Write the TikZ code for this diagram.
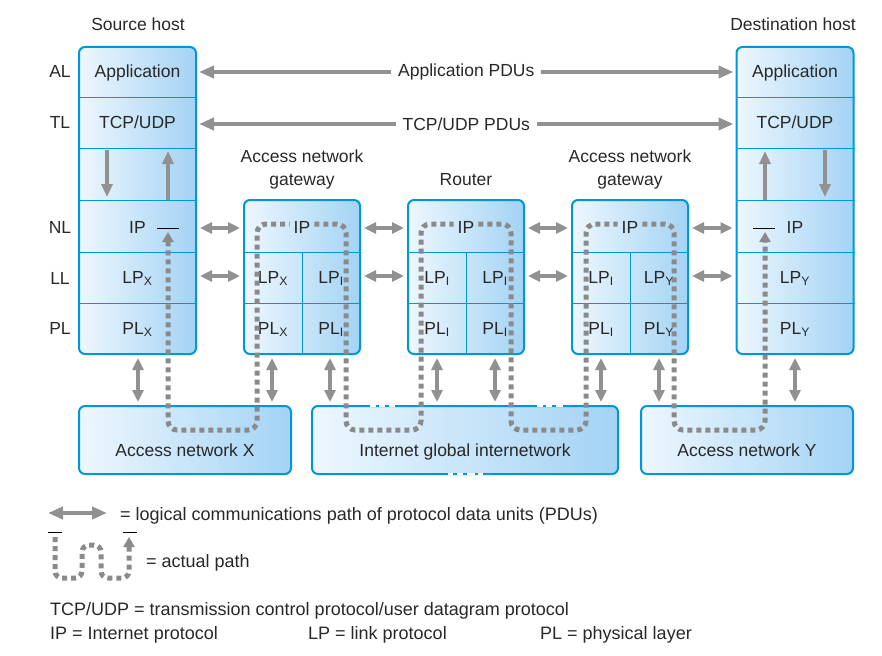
\documentclass[tikz,border=0pt]{standalone}
\usepackage{fontspec}
\setmainfont{Liberation Sans}
\usetikzlibrary{arrows.meta,positioning}
\definecolor{boxblue}{RGB}{0,150,222}
\definecolor{boxlight}{RGB}{238,247,254}
\definecolor{boxdark}{RGB}{163,211,244}
\definecolor{arrgray}{RGB}{145,145,145}
\definecolor{txtgray}{RGB}{40,40,40}

\begin{document}
\begin{tikzpicture}[x=1pt,y=-1pt,
  every node/.style={font=\fontsize{17.5}{21}\selectfont, text=txtgray, inner sep=0pt},
  box/.style={draw=boxblue, line width=2pt, rounded corners=6pt, left color=boxlight, right color=boxdark},
  divline/.style={draw=boxblue, line width=1pt},
  txt/.style={anchor=base},
  keytxt/.style={anchor=base west, font=\fontsize{18}{21}\selectfont},
  pdu/.style={draw=arrgray, line width=4.5pt, {Triangle[length=15pt,width=12pt]}-{Triangle[length=15pt,width=12pt]}, shorten <=2pt, shorten >=2pt},
  hop/.style={draw=arrgray, line width=3.5pt, {Triangle[length=12pt,width=11pt]}-{Triangle[length=12pt,width=11pt]}, shorten <=3pt, shorten >=3pt},
  updown/.style={draw=arrgray, line width=4pt, -{Triangle[length=13pt,width=11pt]}},
  actual/.style={draw=arrgray!95!black, line width=5pt, dash pattern=on 5pt off 4pt, rounded corners=9pt},
  tipin/.style={{Triangle[length=10pt,width=11pt]}-},
  tipout/.style={-{Triangle[length=10pt,width=11pt]}},
  bar/.style={draw=black, line width=1pt},
  lbl/.style={fill=white, inner xsep=7pt, inner ysep=3pt}]
\useasboundingbox (0,0) rectangle (882,655);

% hosts and relays
\node[box, minimum width=117pt, minimum height=307pt] (src) at (137.5,200.5) {};
\node[box, minimum width=117pt, minimum height=307pt] (dst) at (795,200.5) {};
\node[box, minimum width=116pt, minimum height=154pt] (gw1) at (302,277) {};
\node[box, minimum width=116pt, minimum height=154pt] (rtr) at (466,277) {};
\node[box, minimum width=116pt, minimum height=154pt] (gw2) at (630,277) {};
\node[box, minimum width=212pt, minimum height=68pt] (anx) at (185,440) {};
\node[box, minimum width=306pt, minimum height=68pt] (net) at (465,440) {};
\node[box, minimum width=212pt, minimum height=68pt] (any) at (747,440) {};

% broken border of the internetwork box
\draw[white, line width=2.5pt] (370,406) -- (395,406) (537,406) -- (563,406) (448,474) -- (483,474);
\draw[boxblue, line width=2pt] (376,406) -- (379,406) (385,406) -- (389,406)
  (543,406) -- (546,406) (552,406) -- (556,406)
  (453,474) -- (457,474) (463,474) -- (467,474) (475,474) -- (478,474);

% layer dividers
\foreach \h in {src,dst}
  \foreach \y in {98,149,200,252,303}
    \draw[divline] (\h.west |- 0,\y) -- (\h.east |- 0,\y);
\foreach \g in {gw1,rtr,gw2} {
  \foreach \y in {252,303}
    \draw[divline] (\g.west |- 0,\y) -- (\g.east |- 0,\y);
  \draw[divline] (\g.center |- 0,252) -- (\g.south);
}

% headings
\node[txt] (srcName) at (138,31) {Source host};
\node[txt] (dstName) at (793,31) {Destination host};
\node[txt] (gw1Top) at (302,162) {Access network};
\node[txt] (gw1Name) at (302,185) {gateway};
\node[txt] (rtrName) at (466,185) {Router};
\node[txt] (gw2Top) at (630,162) {Access network};
\node[txt] (gw2Name) at (630,185) {gateway};

% layer names
\node[txt] (AL) at (60,78) {AL};
\node[txt] (TL) at (60,129) {TL};
\node[txt] (NL) at (60,233) {NL};
\node[txt] (LL) at (60,284) {LL};
\node[txt] (PL) at (60,334) {PL};

% source host
\node[txt] (srcApp) at (137.5,78) {Application};
\node[txt] (srcTcp) at (137.5,129) {TCP/UDP};
\node[txt] (srcIP) at (137.5,233) {IP};
\node[txt] (srcLP) at (137.5,283) {LP\textsubscript{X}};
\node[txt] (srcPL) at (137.5,334) {PL\textsubscript{X}};
% destination host
\node[txt] (dstApp) at (795,78) {Application};
\node[txt] (dstTcp) at (795,129) {TCP/UDP};
\node[txt] (dstIP) at (795,233) {IP};
\node[txt] (dstLP) at (795,283) {LP\textsubscript{Y}};
\node[txt] (dstPL) at (795,334) {PL\textsubscript{Y}};
% gateways and router
\node[txt] (gw1IP) at (302,233) {IP};
\node[txt] (gw1LPa) at (273,283) {LP\textsubscript{X}};
\node[txt] (gw1LPb) at (331,283) {LP\textsubscript{I}};
\node[txt] (gw1PLa) at (273,334) {PL\textsubscript{X}};
\node[txt] (gw1PLb) at (331,334) {PL\textsubscript{I}};
\node[txt] (rtrIP) at (466,233) {IP};
\node[txt] (rtrLPa) at (437,283) {LP\textsubscript{I}};
\node[txt] (rtrLPb) at (495,283) {LP\textsubscript{I}};
\node[txt] (rtrPLa) at (437,334) {PL\textsubscript{I}};
\node[txt] (rtrPLb) at (495,334) {PL\textsubscript{I}};
\node[txt] (gw2IP) at (630,233) {IP};
\node[txt] (gw2LPa) at (601,283) {LP\textsubscript{I}};
\node[txt] (gw2LPb) at (659,283) {LP\textsubscript{Y}};
\node[txt] (gw2PLa) at (601,334) {PL\textsubscript{I}};
\node[txt] (gw2PLb) at (659,334) {PL\textsubscript{Y}};
% networks
\node[txt] (anxName) at (185,456) {Access network X};
\node[txt] (netName) at (465,456) {Internet global internetwork};
\node[txt] (anyName) at (747,456) {Access network Y};

% peer PDUs
\draw[pdu] (src.east |- 0,72) -- node[lbl] (appPdu) {Application PDUs} (dst.west |- 0,72);
\draw[pdu] (src.east |- 0,124) -- node[lbl] (tcpPdu) {TCP/UDP PDUs} (dst.west |- 0,124);
\foreach \a/\b in {src/gw1,gw1/rtr,rtr/gw2,gw2/dst}
  \foreach \y in {228,276}
    \draw[hop] (\a.east |- 0,\y) -- (\b.west |- 0,\y);

% inside the hosts
\draw[updown] (107,150) -- (107,197);
\draw[updown] (168,200) -- (168,151);
\draw[updown] (765,200) -- (765,151);
\draw[updown] (825,150) -- (825,197);

% to the networks
\foreach \x/\a/\b in {138/src/anx,272/gw1/anx,330/gw1/net,437/rtr/net,495/rtr/net,601/gw2/net,659/gw2/any,795/dst/any}
  \draw[hop] (\a.south -| \x,0) -- (\b.north -| \x,0);

% actual path
\coordinate (srcTip) at (168,232);
\coordinate (dstTip) at (765,232);
\draw[actual, tipin] (srcTip) -- (168,430) -- (257,430) -- (257,224) -- ([xshift=-4pt]gw1IP.west |- 0,224);
\draw[actual] ([xshift=4pt]gw1IP.east |- 0,224) -- (346,224) -- (346,430) -- (421,430) -- (421,224) -- ([xshift=-4pt]rtrIP.west |- 0,224);
\draw[actual] ([xshift=4pt]rtrIP.east |- 0,224) -- (511,224) -- (511,430) -- (586,430) -- (586,224) -- ([xshift=-4pt]gw2IP.west |- 0,224);
\draw[actual, tipout] ([xshift=4pt]gw2IP.east |- 0,224) -- (674,224) -- (674,430) -- (765,430) -- (dstTip);
\draw[bar] ([xshift=-11pt]srcTip |- 0,228) -- ([xshift=11pt]srcTip |- 0,228);
\draw[bar] ([xshift=-12pt]dstTip |- 0,228) -- ([xshift=10pt]dstTip |- 0,228);

% key
\coordinate (keyA) at (48,513);
\coordinate (keyB) at (107,513);
\draw[pdu, line width=4pt, shorten <=0pt, shorten >=0pt] (keyA) -- (keyB);
\node[keytxt] (keyPdu) at (120,520) {= logical communications path of protocol data units (PDUs)};
\coordinate (keyC) at (55,537);
\coordinate (keyD) at (129,537);
\draw[actual, tipin, tipout, rounded corners=7pt] (keyC) -- (55,578) -- (82,578) -- (82,545) -- (101,545) -- (101,578) -- (129,578) -- (keyD);
\draw[bar] (48,532) -- (62,532) (123,532) -- (137,532);
\node[keytxt] (keyPath) at (146,567) {= actual path};

% abbreviations
\node[keytxt] (abbTcp) at (50,615) {TCP/UDP = transmission control protocol/user datagram protocol};
\node[keytxt] (abbIP) at (50,639) {IP = Internet protocol};
\node[keytxt] (abbLP) at (308,639) {LP = link protocol};
\node[keytxt] (abbPL) at (540,639) {PL = physical layer};
\end{tikzpicture}
\end{document}
